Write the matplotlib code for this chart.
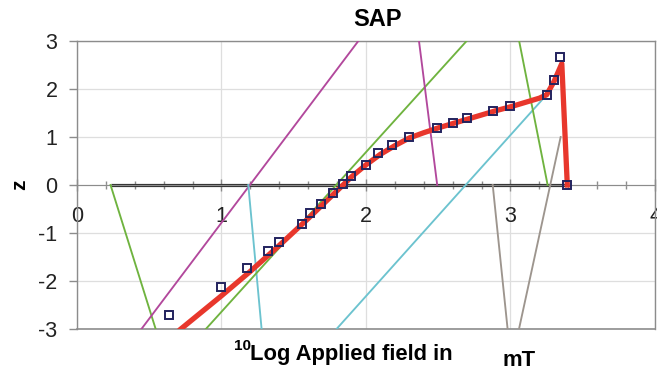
import matplotlib
matplotlib.use('Agg')
import matplotlib.pyplot as plt
from matplotlib.ticker import MultipleLocator

plt.rcParams['font.family'] = ['Liberation Sans', 'DejaVu Sans']
plt.rcParams['axes.unicode_minus'] = False

# measured points (10log field, z)
meas_x = [0.637, 1.00, 1.18, 1.32, 1.40, 1.555, 1.61, 1.69, 1.774, 1.843, 1.896, 1.997, 2.085,
          2.18, 2.30, 2.49, 2.60, 2.70, 2.88, 3.00, 3.25, 3.30, 3.34, 3.39]
meas_z = [-2.71, -2.13, -1.72, -1.375, -1.18, -0.81, -0.59, -0.40, -0.16, 0.03, 0.19, 0.42, 0.66,
          0.83, 1.01, 1.19, 1.29, 1.39, 1.55, 1.65, 1.87, 2.19, 2.67, 0.0]

# fitted curve
fit_x = [0.72, 1.0, 1.2, 1.4, 1.6, 1.8, 1.9, 2.0, 2.1, 2.2, 2.3, 2.4, 2.5, 2.6, 2.7, 2.8,
         2.9, 3.0, 3.1, 3.2, 3.25, 3.30, 3.355, 3.393]
fit_z = [-3.0, -2.31, -1.80, -1.26, -0.70, -0.12, 0.17, 0.42, 0.64, 0.82, 0.98, 1.09, 1.19, 1.28,
         1.37, 1.46, 1.55, 1.63, 1.72, 1.81, 1.88, 2.15, 2.53, 0.0]

# component lines
green1_x, green1_z = [0.233, 0.545], [0, -3]
magenta1_x, magenta1_z = [0.447, 1.947], [-3, 3]
cyan1_x, cyan1_z = [1.186, 1.278], [0, -3]
green2_x, green2_z = [0.893, 2.696], [-3, 3]
magenta2_x, magenta2_z = [2.367, 2.493], [3, 0]
cyan2_x, cyan2_z = [1.797, 3.217], [-3, 1.77]
green3_x, green3_z = [3.06, 3.257], [3, 0]
gray1_x, gray1_z = [2.877, 2.98], [0, -3]
gray2_x, gray2_z = [3.059, 3.347], [-3, 1.0]

zero_x, zero_z = [0.233, 3.39], [0, 0]

x_ticks = [0, 1, 2, 3, 4]
y_ticks = [-3, -2, -1, 0, 1, 2, 3]

green = '#6fb33f'
magenta = '#b2489c'
cyan = '#6cc3cf'
gray = '#9d958e'
frame = '#8c8c8c'

fig = plt.figure(figsize=(6.57, 3.70), dpi=100)
ax = fig.add_axes([0.117, 0.111, 0.880, 0.778])

ax.set_xlim(0, 4)
ax.set_ylim(-3, 3)
ax.set_xticks(x_ticks)
ax.set_yticks(y_ticks)
ax.xaxis.set_minor_locator(MultipleLocator(0.2))
ax.grid(True, color='#dedede', linewidth=0.9, zorder=0)
ax.set_axisbelow(True)

for s in ['left', 'right', 'top']:
    ax.spines[s].set_color(frame)
    ax.spines[s].set_linewidth(1.0)
ax.spines['bottom'].set_position(('data', 0))
ax.spines['bottom'].set_color(frame)
ax.axhline(-3, color=frame, linewidth=1.2, clip_on=False, zorder=1)

ax.tick_params(axis='y', direction='out', length=6, width=1, color=frame, labelsize=15.5, pad=8,
               labelcolor='#222222')
ax.tick_params(axis='x', which='major', direction='inout', length=8, width=1, color=frame,
               labelsize=15.5, pad=11, labelcolor='#222222')
ax.tick_params(axis='x', which='minor', direction='inout', length=6, width=1, color=frame)

ax.plot(zero_x, zero_z, color='#333333', linewidth=2.3, zorder=2, solid_capstyle='butt')

lw = 1.35
ax.plot(green1_x, green1_z, color=green, linewidth=lw, zorder=3)
ax.plot(magenta1_x, magenta1_z, color=magenta, linewidth=lw, zorder=3)
ax.plot(cyan1_x, cyan1_z, color=cyan, linewidth=lw, zorder=3)
ax.plot(green2_x, green2_z, color=green, linewidth=lw, zorder=3)
ax.plot(magenta2_x, magenta2_z, color=magenta, linewidth=lw, zorder=3)
ax.plot(cyan2_x, cyan2_z, color=cyan, linewidth=lw, zorder=3)
ax.plot(green3_x, green3_z, color=green, linewidth=lw, zorder=3)
ax.plot(gray1_x, gray1_z, color=gray, linewidth=lw, zorder=3)
ax.plot(gray2_x, gray2_z, color=gray, linewidth=lw, zorder=3)

ax.plot(fit_x, fit_z, color='#e8372c', linewidth=3.8, zorder=4, solid_joinstyle='round')
ax.plot(meas_x, meas_z, linestyle='none', marker='s', markersize=5.5, markerfacecolor='none',
        markeredgecolor='#23235e', markeredgewidth=1.4, zorder=5)

fig.text(0.575, 0.946, 'SAP', ha='center', va='center', fontsize=17, fontweight='bold')
fig.text(20 / 657, 1 - 185 / 370, 'z', ha='center', va='center', rotation=90,
         fontsize=15, fontweight='bold')
fig.text(234 / 657, 1 - 350 / 370, '10', ha='left', va='baseline', fontsize=11, fontweight='bold')
fig.text(250 / 657, 1 - 360 / 370, 'Log Applied field in', ha='left', va='baseline',
         fontsize=15.8, fontweight='bold')
fig.text(503 / 657, 1 - 366 / 370, 'mT', ha='left', va='baseline', fontsize=15.8, fontweight='bold')

fig.savefig('out.png', dpi=100)
